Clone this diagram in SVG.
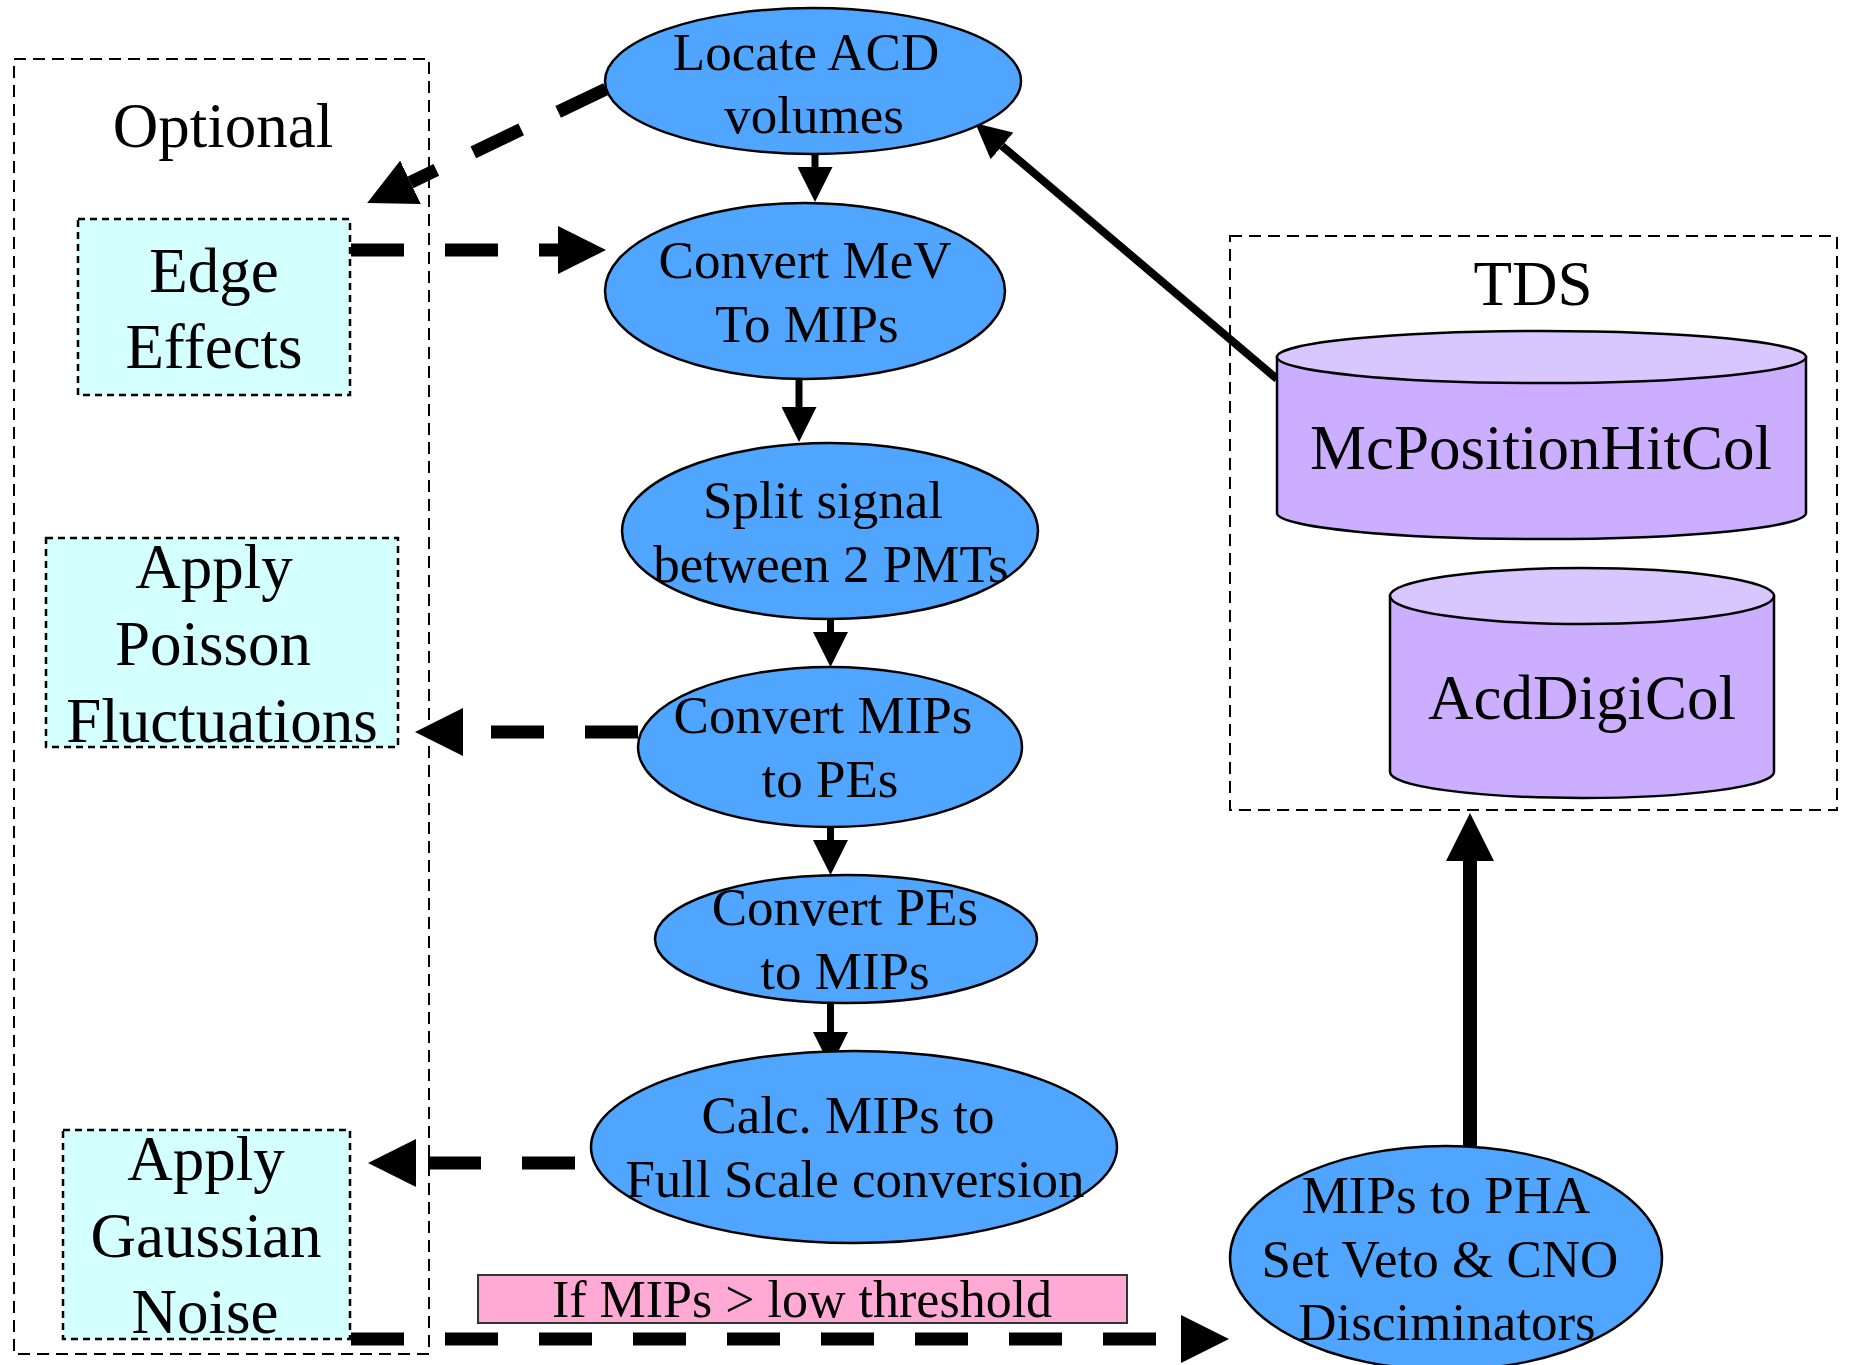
<svg xmlns="http://www.w3.org/2000/svg" width="1849" height="1365" viewBox="0 0 1849 1365">
<style>
  text { font-family: "Liberation Serif", "Times New Roman", serif; fill: #000; text-anchor: middle; }
  .t53 { font-size: 53px; }
  .t63 { font-size: 63px; }
  .t52 { font-size: 52px; }
  .proc { fill: #50A5FF; stroke: #000; stroke-width: 2.5; }
  .opt { fill: #D4FFFF; stroke: #000; stroke-width: 2.5; stroke-dasharray: 7 5; }
  .group { fill: none; stroke: #000; stroke-width: 2; stroke-dasharray: 12 7; }
  .cylBody { fill: #CBAEFF; stroke: #000; stroke-width: 2.5; }
  .cylTop { fill: #D8C6FF; stroke: #000; stroke-width: 2.5; }
  .thin { fill: none; stroke: #000; stroke-width: 7; }
  .dash { fill: none; stroke: #000; stroke-width: 13; stroke-dasharray: 53 41; }
  .label { fill: #FFAAD4; stroke: #333; stroke-width: 2; }
</style>
<defs>
  <marker id="small" markerUnits="userSpaceOnUse" viewBox="0 0 35 35" markerWidth="35" markerHeight="35" refX="0" refY="17.5" orient="auto">
    <path d="M0,0 L35,17.5 L0,35 Z" fill="#000"/>
  </marker>
  <marker id="big" markerUnits="userSpaceOnUse" viewBox="0 0 48 48" markerWidth="48" markerHeight="48" refX="0" refY="24" orient="auto">
    <path d="M0,0 L48,24 L0,48 Z" fill="#000"/>
  </marker>
</defs>

<g id="group-optional">
  <rect class="group" x="14" y="59" width="415" height="1295"/>
  <text class="t63" x="223" y="147">Optional</text>
</g>
<g id="group-tds">
  <rect class="group" x="1230" y="236" width="607" height="574"/>
  <text class="t63" x="1533" y="305">TDS</text>
</g>

<g id="connectors">
  <line class="thin" x1="815" y1="154" x2="815" y2="167" marker-end="url(#small)"/>
  <line class="thin" x1="799" y1="379" x2="799" y2="407" marker-end="url(#small)"/>
  <line class="thin" x1="830.5" y1="619" x2="830.5" y2="632" marker-end="url(#small)"/>
  <line class="thin" x1="830.5" y1="827" x2="830.5" y2="840" marker-end="url(#small)"/>
  <line class="thin" x1="830.5" y1="1003" x2="830.5" y2="1032" marker-end="url(#small)"/>
  <line fill="none" stroke="#000" stroke-width="8" x1="1277" y1="379" x2="1002" y2="146" marker-end="url(#small)"/>
  <line fill="none" stroke="#000" stroke-width="14" x1="1470" y1="1147" x2="1470" y2="861" marker-end="url(#big)"/>
  <line class="dash" x1="606" y1="89" x2="410.5" y2="182.3" marker-end="url(#big)"/>
  <line class="dash" x1="351" y1="250" x2="558" y2="250" marker-end="url(#big)"/>
  <line class="dash" x1="638" y1="732" x2="463" y2="732" marker-end="url(#big)"/>
  <line class="dash" x1="591" y1="1163" x2="416" y2="1163" stroke-dashoffset="78" marker-end="url(#big)"/>
  <line class="dash" x1="351" y1="1339" x2="1181" y2="1339" stroke-dasharray="52 42.5" marker-end="url(#big)"/>
</g>

<g id="node-locate">
  <ellipse class="proc" cx="813" cy="81" rx="208" ry="73"/>
  <text class="t53" x="806" y="70">Locate ACD</text>
  <text class="t53" x="814" y="133">volumes</text>
</g>
<g id="node-convert-mev">
  <ellipse class="proc" cx="805" cy="291" rx="200" ry="88"/>
  <text class="t53" x="805" y="278">Convert MeV</text>
  <text class="t53" x="807" y="342">To MIPs</text>
</g>
<g id="node-split">
  <ellipse class="proc" cx="830" cy="531" rx="208" ry="88"/>
  <text class="t53" x="823" y="518">Split signal</text>
  <text class="t53" x="831" y="582">between 2 PMTs</text>
</g>
<g id="node-mips-pes">
  <ellipse class="proc" cx="830" cy="747" rx="192" ry="80"/>
  <text class="t53" x="823" y="733">Convert MIPs</text>
  <text class="t53" x="830" y="797">to PEs</text>
</g>
<g id="node-pes-mips">
  <ellipse class="proc" cx="846" cy="939" rx="191" ry="64"/>
  <text class="t53" x="845" y="925">Convert PEs</text>
  <text class="t53" x="845" y="989">to MIPs</text>
</g>
<g id="node-calc">
  <ellipse class="proc" cx="854" cy="1147" rx="263" ry="96"/>
  <text class="t53" x="848" y="1133">Calc. MIPs to</text>
  <text class="t53" x="855" y="1197">Full Scale conversion</text>
</g>
<g id="node-pha">
  <ellipse class="proc" cx="1446" cy="1258" rx="216" ry="112"/>
  <text class="t53" x="1446" y="1213">MIPs to PHA</text>
  <text class="t53" x="1440" y="1277">Set Veto &amp; CNO</text>
  <text class="t53" x="1447" y="1340">Disciminators</text>
</g>

<g id="node-edge">
  <rect class="opt" x="78" y="219" width="272" height="176"/>
  <text class="t63" x="214" y="292">Edge</text>
  <text class="t63" x="214" y="368">Effects</text>
</g>
<g id="node-poisson">
  <rect class="opt" x="46" y="538" width="352" height="209"/>
  <text class="t63" x="214" y="588">Apply</text>
  <text class="t63" x="213" y="665">Poisson</text>
  <text class="t63" x="222" y="742">Fluctuations</text>
</g>
<g id="node-gaussian">
  <rect class="opt" x="63" y="1130" width="287" height="209"/>
  <text class="t63" x="206" y="1180">Apply</text>
  <text class="t63" x="206" y="1257">Gaussian</text>
  <text class="t63" x="205" y="1333">Noise</text>
</g>

<g id="node-mcposition">
  <path class="cylBody" d="M1277,357 V513 A264.5,26 0 0 0 1806,513 V357 Z"/>
  <ellipse class="cylTop" cx="1541.5" cy="357" rx="264.5" ry="26"/>
  <text class="t63" x="1541" y="469">McPositionHitCol</text>
</g>
<g id="node-acddigi">
  <path class="cylBody" d="M1390,596 V772 A192,26 0 0 0 1774,772 V596 Z"/>
  <ellipse class="cylTop" cx="1582" cy="596" rx="192" ry="28"/>
  <text class="t63" x="1582" y="719">AcdDigiCol</text>
</g>

<g id="label-threshold">
  <rect class="label" x="478" y="1275" width="649" height="48"/>
  <text class="t52" x="802" y="1317">If MIPs &gt; low threshold</text>
</g>
</svg>
